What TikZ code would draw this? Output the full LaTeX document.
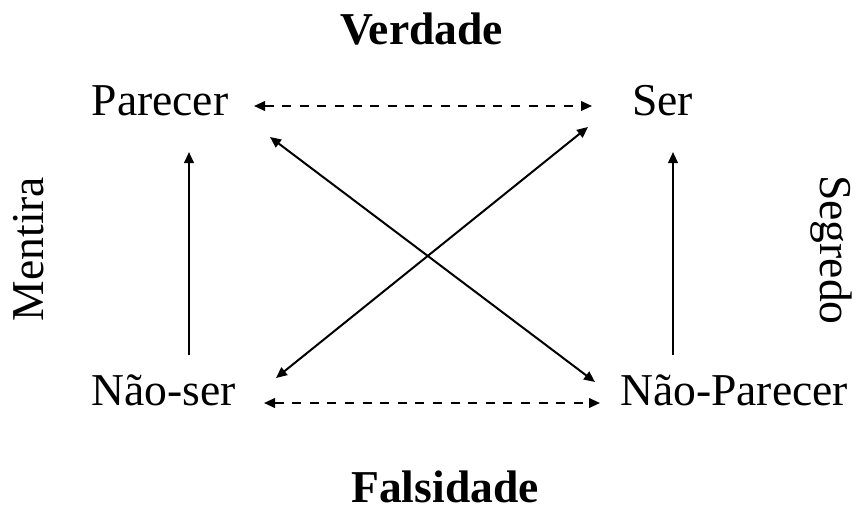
\documentclass[tikz,border=0pt]{standalone}
\usepackage{fontspec}
\setmainfont{Liberation Serif}
\usetikzlibrary{arrows.meta}
\tikzset{
  >={Triangle[length=5.5pt,width=4.8pt]},
  term/.style={anchor=base, inner sep=0pt, font=\fontsize{22.8}{27}\selectfont},
  side/.style={anchor=base, inner sep=0pt, font=\fontsize{22.8}{27}\selectfont\bfseries},
  arr/.style={->, line width=1pt},
  dbl/.style={<->, line width=1pt},
  dsh/.style={<->, line width=1pt, dash pattern=on 4.5pt off 4.3pt}
}
\begin{document}
\begin{tikzpicture}[x=0.5pt, y=-0.5pt]
  \useasboundingbox (0,0) rectangle (857,509);
  % corners of the square
  \node[term] (par) at (160,115) {Parecer};
  \node[term] (ser) at (662.5,115) {Ser};
  \node[term] (nser) at (163.5,405) {Não-ser};
  \node[term] (npar) at (734,405) {Não-Parecer};
  % sides
  \node[side] (verd) at (421.5,44) {Verdade};
  \node[side] (fals) at (445,502) {Falsidade};
  \node[term, rotate=90] (ment) at (43,249) {Mentira};
  \node[term, rotate=-90] (segr) at (820,250) {Segredo};
  % arrow ends
  \coordinate (par-e) at (254,106);
  \coordinate (ser-w) at (592,106);
  \coordinate (nser-e) at (264,403);
  \coordinate (npar-w) at (600,403);
  \coordinate (par-s) at (189,152);
  \coordinate (nser-n) at (189,355);
  \coordinate (ser-s) at (673,152);
  \coordinate (npar-n) at (673,355);
  \coordinate (par-se) at (270,137);
  \coordinate (npar-nw) at (595,382);
  \coordinate (ser-sw) at (588,127);
  \coordinate (nser-ne) at (276,378);
  \draw[dsh] (par-e) -- (ser-w);
  \draw[dsh] (nser-e) -- (npar-w);
  \draw[arr] (nser-n) -- (par-s);
  \draw[arr] (npar-n) -- (ser-s);
  \draw[dbl] (par-se) -- (npar-nw);
  \draw[dbl] (nser-ne) -- (ser-sw);
\end{tikzpicture}
\end{document}
